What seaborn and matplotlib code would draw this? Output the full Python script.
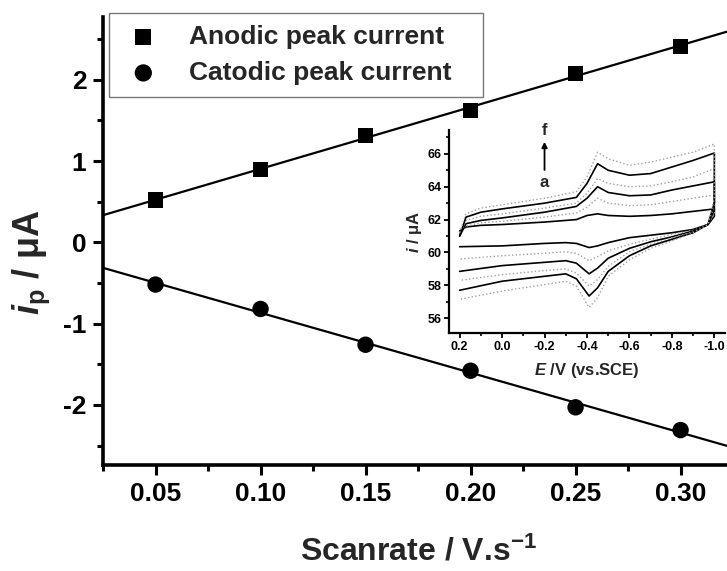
import numpy as np
import pandas as pd
import matplotlib
matplotlib.use("Agg")
import matplotlib.pyplot as plt
import seaborn as sns
from matplotlib.ticker import MultipleLocator

# ── Main data: peak current vs scan rate ──
scan_rate = [0.05, 0.10, 0.15, 0.20, 0.25, 0.30]
anodic_ip = [0.52, 0.90, 1.31, 1.62, 2.08, 2.41]
catodic_ip = [-0.52, -0.82, -1.26, -1.58, -2.03, -2.31]

# ── Inset: cyclic voltammograms a..f ──
e_upper = [0.20, 0.17, 0.10, 0.0, -0.2, -0.35, -0.40, -0.45, -0.50, -0.60, -0.70, -0.80, -0.90, -1.0]
e_lower = [-1.0, -0.97, -0.9, -0.8, -0.7, -0.6, -0.5, -0.45, -0.41, -0.35, -0.3, -0.2, 0.0, 0.2]

i_upper_a = [61.3, 61.55, 61.65, 61.7, 61.85, 62.0, 62.25, 62.35, 62.25, 62.2, 62.25, 62.35, 62.5, 62.65]
i_upper_b = [61.1, 61.6, 61.8, 61.9, 62.15, 62.4, 62.75, 63.3, 63.0, 62.85, 62.9, 63.1, 63.3, 63.5]
i_upper_c = [61.0, 61.75, 61.95, 62.1, 62.45, 62.8, 63.3, 64.0, 63.65, 63.45, 63.5, 63.8, 64.05, 64.3]
i_upper_d = [61.1, 61.95, 62.2, 62.35, 62.7, 63.0, 63.6, 64.5, 64.2, 64.0, 64.05, 64.3, 64.6, 65.1]
i_upper_e = [61.0, 62.15, 62.45, 62.65, 63.0, 63.35, 64.2, 65.4, 65.0, 64.7, 64.8, 65.2, 65.6, 66.05]
i_upper_f = [61.2, 62.35, 62.7, 62.9, 63.3, 63.7, 64.6, 66.1, 65.7, 65.3, 65.5, 65.8, 66.1, 66.6]

i_lower_a = [62.2, 61.7, 61.4, 61.2, 61.05, 60.9, 60.6, 60.4, 60.3, 60.55, 60.6, 60.55, 60.4, 60.35]
i_lower_b = [62.4, 61.7, 61.35, 61.1, 60.8, 60.5, 60.1, 59.75, 59.5, 59.95, 60.05, 59.95, 59.8, 59.6]
i_lower_c = [62.6, 61.7, 61.3, 60.95, 60.65, 60.25, 59.65, 59.05, 58.7, 59.35, 59.5, 59.4, 59.2, 58.85]
i_lower_d = [62.8, 61.7, 61.25, 60.9, 60.5, 60.05, 59.15, 58.35, 57.95, 58.75, 59.0, 58.9, 58.65, 58.3]
i_lower_e = [63.0, 61.7, 61.2, 60.8, 60.4, 59.8, 58.85, 57.85, 57.35, 58.4, 58.7, 58.55, 58.25, 57.7]
i_lower_f = [63.3, 61.7, 61.2, 60.7, 60.25, 59.55, 58.55, 57.25, 56.65, 57.95, 58.25, 58.05, 57.65, 57.15]

cv_curves = {
    "a": (i_upper_a, i_lower_a),
    "b": (i_upper_b, i_lower_b),
    "c": (i_upper_c, i_lower_c),
    "d": (i_upper_d, i_lower_d),
    "e": (i_upper_e, i_lower_e),
    "f": (i_upper_f, i_lower_f),
}

# ── Style ──
sns.set_theme(style="ticks")
plt.rcParams["font.family"] = ["Liberation Sans", "DejaVu Sans"]
plt.rcParams["font.weight"] = "bold"
plt.rcParams["axes.unicode_minus"] = False
plt.rcParams["mathtext.fontset"] = "custom"
plt.rcParams["mathtext.rm"] = "Liberation Sans:bold"
plt.rcParams["mathtext.bf"] = "Liberation Sans:bold"
plt.rcParams["mathtext.it"] = "Liberation Sans:italic:bold"

fig = plt.figure(figsize=(7.27, 5.71), dpi=100)
ax = fig.add_axes([0.1417, 0.1856, 0.8583, 0.7844])
ax.set_xlim(0.025, 0.3221)
ax.set_ylim(-2.74, 2.77)

# fitted lines (extend to axis limits)
sns.regplot(x=scan_rate, y=anodic_ip, scatter=False, ci=None, truncate=False,
            color="black", line_kws=dict(lw=1.6), ax=ax)
sns.regplot(x=scan_rate, y=catodic_ip, scatter=False, ci=None, truncate=False,
            color="black", line_kws=dict(lw=1.6), ax=ax)

sns.scatterplot(x=scan_rate, y=anodic_ip, marker="s", s=120, color="black",
                edgecolor="none", label="Anodic peak current", ax=ax, zorder=3)
sns.scatterplot(x=scan_rate, y=catodic_ip, marker="o", s=140, color="black",
                edgecolor="none", label="Catodic peak current", ax=ax, zorder=3)

ax.set_xlim(0.025, 0.3221)
ax.set_ylim(-2.74, 2.77)
sns.despine(ax=ax)
for sp in ["left", "bottom"]:
    ax.spines[sp].set_linewidth(2.6)
    ax.spines[sp].set_color("black")

ax.set_xticks(scan_rate)
ax.set_xticklabels(["0.05", "0.10", "0.15", "0.20", "0.25", "0.30"])
ax.set_yticks([-2, -1, 0, 1, 2])
ax.set_yticklabels(["-2", "-1", "0", "1", "2"])
ax.xaxis.set_minor_locator(MultipleLocator(0.025))
ax.yaxis.set_minor_locator(MultipleLocator(0.5))
ax.tick_params(which="major", direction="out", length=7, width=2.2,
               labelsize=19, color="black", labelcolor="black", pad=5)
ax.tick_params(which="minor", direction="out", length=4.5, width=2.2, color="black")

ax.set_xlabel(r"Scanrate / V.s$^{-1}$", fontsize=23, fontweight="bold")
ax.set_ylabel(r"$i_{\mathrm{p}}$ / μA", fontsize=26, fontweight="bold")
ax.xaxis.set_label_coords(0.505, -0.158)
ax.yaxis.set_label_coords(-0.082, 0.453)

leg = ax.legend(loc="upper left", bbox_to_anchor=(0.0096, 0.80, 0.599, 0.209),
                mode="expand", borderaxespad=0, frameon=True, fancybox=False,
                fontsize=19, borderpad=0.45, handlelength=1.7, handletextpad=0.9,
                labelspacing=0.45, markerscale=1.05)
leg.get_frame().set_edgecolor("#555555")
leg.get_frame().set_linewidth(1.0)

# ── Inset ──
ax_in = fig.add_axes([0.6176, 0.4168, 0.3796, 0.3555])
ax_in.set_facecolor("none")
for name, (up, low) in cv_curves.items():
    solid = name in ("a", "c", "e")
    xs = e_upper + e_lower
    ys = up + low
    sns.lineplot(x=xs, y=ys, sort=False, estimator=None, ax=ax_in,
                 color="black" if solid else "#a0a0a0",
                 linestyle="-" if solid else ":",
                 lw=1.2 if solid else 1.0)

ax_in.set_xlim(0.25, -1.05)
ax_in.set_ylim(55.1, 67.45)
sns.despine(ax=ax_in)
for sp in ["left", "bottom"]:
    ax_in.spines[sp].set_linewidth(1.6)
    ax_in.spines[sp].set_color("black")
ax_in.set_xticks([0.2, 0.0, -0.2, -0.4, -0.6, -0.8, -1.0])
ax_in.set_xticklabels(["0.2", "0.0", "-0.2", "-0.4", "-0.6", "-0.8", "-1.0"])
ax_in.set_yticks([56, 58, 60, 62, 64, 66])
ax_in.xaxis.set_minor_locator(MultipleLocator(0.1))
ax_in.yaxis.set_minor_locator(MultipleLocator(1))
ax_in.tick_params(which="major", direction="out", length=3.5, width=1.3,
                  labelsize=9, color="black", labelcolor="black", pad=2)
ax_in.tick_params(which="minor", direction="out", length=2, width=1.2, color="black")
ax_in.set_xlabel(r"$E$ /V (vs.SCE)", fontsize=12, fontweight="bold", labelpad=6)
ax_in.set_ylabel(r"$i$ / μA", fontsize=12, fontweight="bold", labelpad=2)

ax_in.annotate("", xy=(-0.2, 66.9), xytext=(-0.2, 64.85),
               arrowprops=dict(arrowstyle="-|>", color="black", lw=1.3,
                               mutation_scale=8))
ax_in.text(-0.2, 67.45, "f", ha="center", va="center", fontsize=12, fontweight="bold")
ax_in.text(-0.2, 64.25, "a", ha="center", va="center", fontsize=12, fontweight="bold")

fig.savefig("out.png", dpi=100)
